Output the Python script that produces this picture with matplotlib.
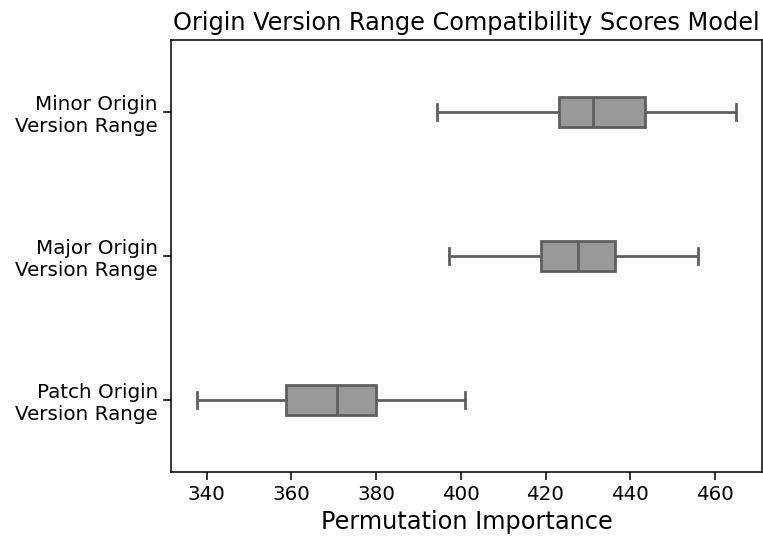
import matplotlib
matplotlib.use("Agg")
import matplotlib.pyplot as plt

# Box statistics for each version-range feature (permutation importance)
categories = ["Minor Origin\nVersion Range",
              "Major Origin\nVersion Range",
              "Patch Origin\nVersion Range"]
whislo = [394.3, 397.3, 337.8]
q1     = [423.1, 418.9, 358.7]
median = [431.1, 427.7, 370.7]
q3     = [443.5, 436.3, 380.0]
whishi = [465.0, 456.1, 400.9]
xticks = [340, 360, 380, 400, 420, 440, 460]

stats = [
    {"label": c, "whislo": lo, "q1": a, "med": m, "q3": b, "whishi": hi,
     "fliers": []}
    for c, lo, a, m, b, hi in zip(categories, whislo, q1, median, q3, whishi)
]

fig = plt.figure(figsize=(7.63, 5.41), dpi=100)
ax = fig.add_axes([171 / 763, 1 - 472 / 541, 591 / 763, 432 / 541])

edge = "#5f5f5f"
lw = 2.0
ax.bxp(stats, positions=range(len(stats)), widths=0.21, vert=False,
       patch_artist=True, showfliers=False,
       boxprops=dict(facecolor="#999999", edgecolor=edge, linewidth=lw),
       medianprops=dict(color=edge, linewidth=lw),
       whiskerprops=dict(color=edge, linewidth=lw),
       capprops=dict(color=edge, linewidth=lw))

ax.set_ylim(2.5, -0.5)
ax.set_xlim(331.6, 471.1)
ax.set_xticks(xticks)
ax.set_yticks(range(len(categories)))
ax.set_yticklabels(categories)
ax.tick_params(labelsize=14.3, length=6, width=1.1)
for s in ax.spines.values():
    s.set_linewidth(1.1)
ax.set_xlabel("Permutation Importance", fontsize=17.3)
ax.set_title("Origin Version Range Compatibility Scores Model", fontsize=17.3,
             pad=7)

fig.savefig("out.png", dpi=100)
